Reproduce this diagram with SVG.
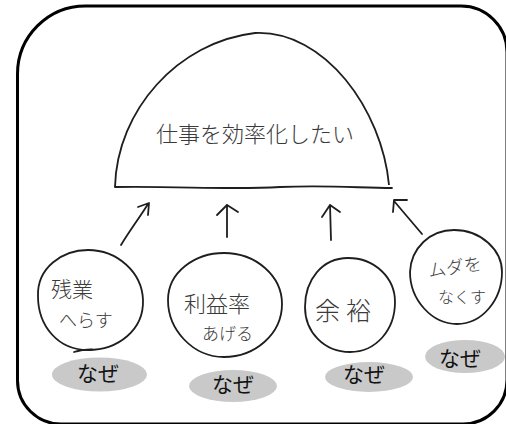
<svg xmlns="http://www.w3.org/2000/svg" width="506" height="424" viewBox="0 0 506 424">
<style>
.frame{fill:none;stroke:#000;stroke-width:3}
.ink{fill:none;stroke:#1e1e1e;stroke-width:1.8;stroke-linecap:round;stroke-linejoin:round}
.bubble{fill:#fff;stroke:#1e1e1e;stroke-width:1.8}
.hand{font-family:"Noto Sans CJK JP","Noto Sans",sans-serif;fill:#3a3a3a;font-weight:300}
.why{fill:#c9c9c9}
.whyt{font-family:"Noto Sans CJK JP","Noto Sans",sans-serif;font-size:21px;font-weight:400;fill:#111;text-anchor:middle}
</style>
<rect width="506" height="424" fill="#fff"/>
<path class="frame" d="M 17.5 74 A 68 68 0 0 1 85.5 6 L 461 6 A 46 46 0 0 1 507 52 L 507 380 A 44 44 0 0 1 463 424 L 61 424 A 43.5 43.5 0 0 1 17.5 380.5 Z"/>

<g id="goal">
<path class="bubble" d="M 115 187 C 117 110 178 42 255 33 C 325 30 382 110 389 185"/>
<path class="ink" d="M 115 187 C 180 186 230 190 280 187 C 330 185 360 188 392 188"/>
<text class="hand" x="156" y="142" font-size="22" fill="#2a2a2a">仕事を効率化したい</text>
</g>

<g id="connectors">
<path class="ink" d="M 121 245 C 130 230 140 217 148 204 M 138 207 L 149 203 L 148 215"/>
<path class="ink" d="M 227 237 L 227 205 M 217 215 L 227 205 L 238 212"/>
<path class="ink" d="M 331 240 L 330 205 M 322 217 L 330 205 L 340 212"/>
<path class="ink" d="M 422 234 L 394 201 M 407 200 L 394 200 L 393 212"/>
</g>

<g id="node-zangyo">
<path class="bubble" d="M 38 296 C 37 268 62 250 88 250 C 117 250 142 272 143 300 C 144 330 118 350 88 350 C 58 350 38 326 38 296 Z"/>
<path class="ink" d="M 74 352 C 80 350 86 349.5 92 349.5"/>
<text class="hand" x="51" y="297" font-size="21" fill="#666">残業</text>
<text class="hand" x="59" y="327" font-size="18">へらす</text>
</g>

<g id="node-rieki">
<path class="bubble" d="M 168 300 C 168 272 195 253 224 253 C 256 253 282 276 282 304 C 282 334 255 357 224 357 C 193 357 168 330 168 300 Z"/>
<text class="hand" x="184" y="312" font-size="22" fill="#555">利益率</text>
<text class="hand" x="202" y="340" font-size="17" fill="#555">あげる</text>
</g>

<g id="node-yoyu">
<path class="bubble" d="M 305 307 C 305 280 322 258 348 258 C 375 258 395 278 395 302 C 395 330 376 352 350 352 C 324 352 305 332 305 307 Z"/>
<text class="hand" x="315" y="320" font-size="25" letter-spacing="6">余裕</text>
</g>

<g id="node-muda">
<path class="bubble" d="M 410 272 C 411 248 430 230 454 230 C 481 230 502 250 502 272 C 502 300 482 324 457 324 C 432 324 410 300 410 272 Z"/>
<text class="hand" x="428" y="274" font-size="18" transform="rotate(-8 452 268)">ムダを</text>
<text class="hand" x="438" y="303" font-size="16">なくす</text>
</g>

<g id="why-1"><ellipse class="why" cx="99.5" cy="374.5" rx="47.5" ry="17"/><text class="whyt" x="98" y="381">なぜ</text></g>
<g id="why-2"><ellipse class="why" cx="233" cy="386" rx="44" ry="16"/><text class="whyt" x="233" y="392">なぜ</text></g>
<g id="why-3"><ellipse class="why" cx="369" cy="377" rx="44" ry="15"/><text class="whyt" x="364" y="382">なぜ</text></g>
<g id="why-4"><ellipse class="why" cx="465" cy="356.5" rx="40" ry="16.5"/><text class="whyt" x="460" y="366">なぜ</text></g>
</svg>
